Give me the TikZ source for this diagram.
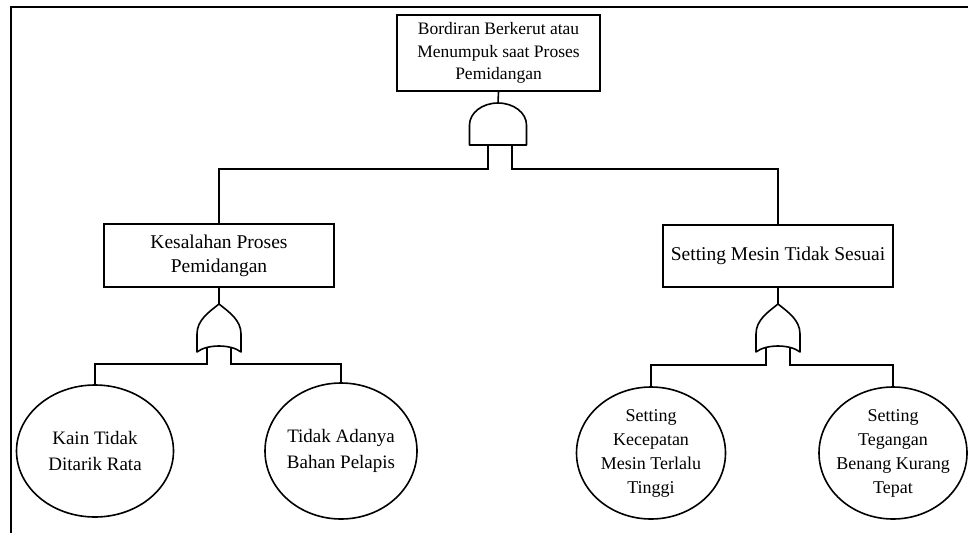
\documentclass[tikz,border=0pt]{standalone}
\usepackage{fontspec}
\setmainfont{Liberation Serif}
\usetikzlibrary{shapes.geometric}
\begin{document}
\begin{tikzpicture}[x=1pt,y=-1pt,
  line/.style={line width=1.6pt},
  event/.style={draw,line width=1.6pt,rectangle,align=center,inner sep=2pt},
  basic/.style={draw,line width=1.6pt,ellipse,align=center,inner sep=-25pt},
  gateline/.style={line width=1.6pt,line join=round},
  orgate/.pic={\draw[gateline] (0,0) .. controls (10,8) and (22,16) .. (22,30) -- (22,48) .. controls (12,40) and (-12,40) .. (-22,48) -- (-22,30) .. controls (-22,16) and (-10,8) .. cycle;},
  andgate/.pic={\draw[gateline] (-28.5,42) -- (-28.5,22) arc[start angle=180,end angle=0,x radius=28.5pt,y radius=22pt] -- (28.5,42) -- cycle;}
]
\useasboundingbox (0,0) rectangle (968,533);
% outer frame
\draw[line width=2.6pt] (11,533) -- (11,7) -- (968,7);

% top event
\node[event,minimum width=203pt,minimum height=76pt,font=\fontsize{17.5}{22.5}\selectfont] (top) at (498.5,53) {Bordiran Berkerut atau\\Menumpuk saat Proses\\Pemidangan};

% intermediate events
\node[event,minimum width=230pt,minimum height=63pt,font=\fontsize{19.5}{24}\selectfont] (kes) at (219,255.5) {Kesalahan Proses\\Pemidangan};
\node[event,minimum width=230pt,minimum height=62pt,font=\fontsize{19.5}{24}\selectfont] (set) at (778,256) {Setting Mesin Tidak Sesuai};

% basic events
\node[basic,minimum width=157pt,minimum height=132pt,font=\fontsize{19}{26}\selectfont] (e1) at (95,451) {Kain Tidak\\Ditarik Rata};
\node[basic,minimum width=152pt,minimum height=136pt,font=\fontsize{19}{26}\selectfont] (e2) at (341,451) {Tidak Adanya\\Bahan Pelapis};
\node[basic,minimum width=149pt,minimum height=132pt,font=\fontsize{18}{24}\selectfont] (e3) at (651,453) {Setting\\Kecepatan\\Mesin Terlalu\\Tinggi};
\node[basic,minimum width=148pt,minimum height=132pt,font=\fontsize{18}{24}\selectfont] (e4) at (893,453) {Setting\\Tegangan\\Benang Kurang\\Tepat};

% AND gate
\pic at (498,103) {andgate};
\coordinate (andtop) at (498,103);
\coordinate (andL) at (488,145);
\coordinate (andR) at (512,145);

% OR gates
\pic at (219,304) {orgate};
\coordinate (orAtop) at (219,304);
\coordinate (orAL) at (207,347.5);
\coordinate (orAR) at (231,347.5);

\pic at (778,304) {orgate};
\coordinate (orBtop) at (778,304);
\coordinate (orBL) at (766,347.5);
\coordinate (orBR) at (790,347.5);

% connectors
\draw[line] (top.south) -- (andtop);
\draw[line] (andL) -- ++(0,24) -| (kes.north);
\draw[line] (andR) -- ++(0,24) -| (set.north);

\draw[line] (kes.south) -- (orAtop);
\draw[line] (orAL) -- ++(0,16.5) -| (e1.north);
\draw[line] (orAR) -- ++(0,16.5) -| (e2.north);

\draw[line] (set.south) -- (orBtop);
\draw[line] (orBL) -- ++(0,17.5) -| (e3.north);
\draw[line] (orBR) -- ++(0,17.5) -| (e4.north);
\end{tikzpicture}
\end{document}
